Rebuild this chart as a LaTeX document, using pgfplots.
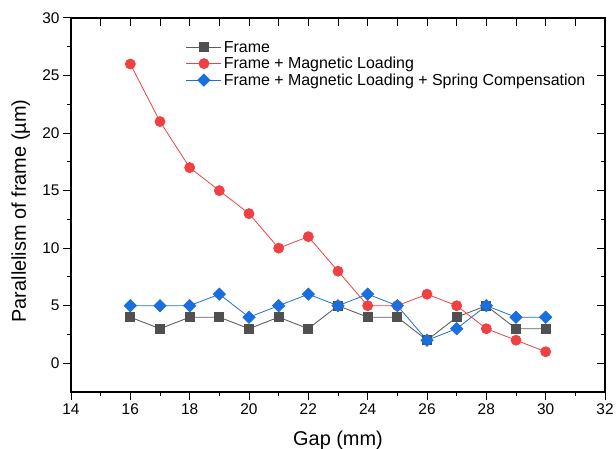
\documentclass[border=0pt]{standalone}
\usepackage{fontspec}
\setmainfont{Liberation Sans}
\usepackage{pgfplots}
\pgfplotsset{compat=1.18}
\definecolor{fgray}{RGB}{80,80,80}
\definecolor{fgrayl}{RGB}{95,95,95}
\definecolor{fred}{RGB}{240,64,66}
\definecolor{fblue}{RGB}{26,110,222}
\begin{document}
\begin{tikzpicture}
\useasboundingbox (-71bp,-57bp) rectangle (545bp,392bp);
\begin{axis}[
  scale only axis,
  width=534bp, height=374bp,
  xmin=14, xmax=32, ymin=-2.5, ymax=30,
  xtick={14,16,...,32}, ytick={0,5,...,30},
  minor x tick num=1, minor y tick num=1,
  xtick pos=bottom, ytick pos=left,
  tick align=outside,
  major tick length=8bp, minor tick length=4bp,
  axis line style={line width=1.1pt},
  every tick/.style={line width=1pt, black},
  /pgf/number format/assume math mode=true,
  tick label style={font=\fontsize{15.5}{18}\selectfont},
  xlabel={Gap (mm)}, ylabel={Parallelism of frame (\textmu m)},
  label style={font=\fontsize{20}{24}\selectfont},
  xlabel style={at={(axis description cs:0.5,-0.142)}, anchor=base},
  ylabel style={at={(axis description cs:-0.094,0.484)}, anchor=center},
  legend style={draw=none, fill=none, at={(axis description cs:0.215,0.944)}, anchor=north west,
    font=\fontsize{16}{16.5}\selectfont, inner sep=0pt, row sep=-0.5bp,
    /tikz/every even column/.append style={column sep=4bp}},
  legend cell align=left,
  legend image code/.code={\draw[mark repeat=2,mark phase=2] plot coordinates {(0bp,0bp) (17.5bp,0bp) (35bp,0bp)};},
]
\addplot[color=fgrayl, line width=0.9pt, mark=square*, mark size=4.5bp, mark options={fill=fgray, draw=fgray}] coordinates {
(16,4) (17,3) (18,4) (19,4) (20,3) (21,4) (22,3) (23,5) (24,4) (25,4) (26,2) (27,4) (28,5) (29,3) (30,3)};
\addlegendentry{Frame}
\addplot[color=fred, line width=0.8pt, mark=*, mark size=5bp, mark options={fill=fred, draw=fred}] coordinates {
(16,26) (17,21) (18,17) (19,15) (20,13) (21,10) (22,11) (23,8) (24,5) (25,5) (26,6) (27,5) (28,3) (29,2) (30,1)};
\addlegendentry{Frame + Magnetic Loading}
\addplot[color=fblue, line width=0.8pt, mark=square*, mark size=4.3bp, mark options={fill=fblue, draw=fblue, rotate=45}] coordinates {
(16,5) (17,5) (18,5) (19,6) (20,4) (21,5) (22,6) (23,5) (24,6) (25,5) (26,2) (27,3) (28,5) (29,4) (30,4)};
\addlegendentry{Frame + Magnetic Loading + Spring Compensation}
\end{axis}
\begin{axis}[
  scale only axis,
  width=534bp, height=374bp,
  xmin=14, xmax=32, ymin=-2.5, ymax=30,
  xtick={14,16,...,32}, ytick={0,5,...,30},
  minor x tick num=1, minor y tick num=1,
  xtick pos=top, ytick pos=right,
  tick align=inside,
  xticklabels={}, yticklabels={},
  axis line style={line width=1.1pt},
  every tick/.style={line width=1pt, black},
  major tick length=8bp, minor tick length=4bp,
  minor x tick style={/pgfplots/minor tick length=8bp},
]
\end{axis}
\end{tikzpicture}
\end{document}
